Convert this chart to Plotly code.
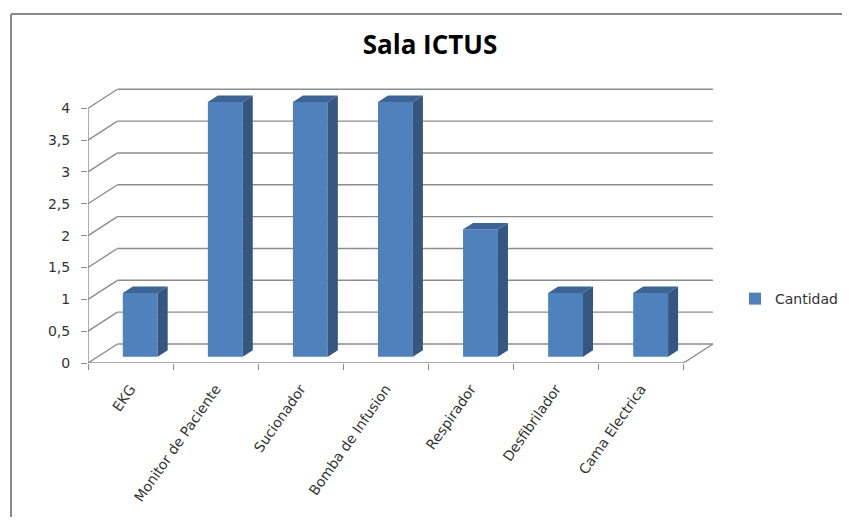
import plotly.graph_objects as go

# ---- data ----
categories = ["EKG", "Monitor de Paciente", "Sucionador", "Bomba de Infusion",
              "Respirador", "Desfibrilador", "Cama Electrica"]
cantidad = [1, 4, 4, 4, 2, 1, 1]
y_tick_values = [0, 0.5, 1, 1.5, 2, 2.5, 3, 3.5, 4]
y_tick_labels = ["0", "0,5", "1", "1,5", "2", "2,5", "3", "3,5", "4"]
series_name = "Cantidad"
title_text = "Sala ICTUS"

# ---- style / geometry (oblique 3D projection in data units) ----
OFF = 8                         # page body margin
W, H = 850 - 2 * OFF, 525 - 2 * OFF
PLOT_L, PLOT_R, PLOT_T, PLOT_B = 88, 726, 70, 363   # page pixels
L_M, R_M = PLOT_L - OFF, W - (PLOT_R - OFF)
T_M, B_M = PLOT_T - OFF, H - (PLOT_B - OFF)
X_RANGE = [-0.5, 7.0]
Y_RANGE = [0, 4.6]
DX, DY = 0.346, 0.298          # depth offset of the back wall
F0, F1 = 0.33, 0.67            # bar depth slab (fraction of depth)
BAR_W = 0.41
FRONT, SIDE, TOP = "#4F81BD", "#34567F", "#3D6494"
GRID = "#8C8C8C"
TXT = "#333333"
FONT = "DejaVu Sans"

n = len(categories)
xs = list(range(n))
x_lo, x_hi = -0.5, n - 0.5

fig = go.Figure()

# front faces of bars
base = F0 * DY
fig.add_trace(go.Bar(
    x=[x + F0 * DX for x in xs], y=cantidad, base=[base] * n,
    width=BAR_W, marker=dict(color=FRONT, line=dict(width=0)),
    name=series_name, showlegend=True, hoverinfo="skip"))

# side and top faces
sx, sy = (F1 - F0) * DX, (F1 - F0) * DY
side_x, side_y, top_x, top_y = [], [], [], []
for x, v in zip(xs, cantidad):
    cx = x + F0 * DX
    xl, xr = cx - BAR_W / 2, cx + BAR_W / 2
    yt = base + v
    side_x += [xr, xr, xr + sx, xr + sx, xr, None]
    side_y += [base, yt, yt + sy, base + sy, base, None]
    top_x += [xl, xr, xr + sx, xl + sx, xl, None]
    top_y += [yt, yt, yt + sy, yt + sy, yt, None]

fig.add_trace(go.Scatter(x=side_x, y=side_y, fill="toself", fillcolor=SIDE,
                         mode="lines", line=dict(width=0, color=SIDE),
                         showlegend=False, hoverinfo="skip", xaxis="x2"))
fig.add_trace(go.Scatter(x=top_x, y=top_y, fill="toself", fillcolor=TOP,
                         mode="lines", line=dict(width=0, color=TOP),
                         showlegend=False, hoverinfo="skip", xaxis="x2"))

# walls / gridlines (below traces)
shapes = []
def seg(x0, y0, x1, y1):
    shapes.append(dict(type="line", xref="x", yref="y", x0=x0, y0=y0, x1=x1, y1=y1,
                       layer="below", line=dict(color=GRID, width=1.4)))

for v in y_tick_values:
    seg(x_lo, v, x_lo + DX, v + DY)                 # left wall
    seg(x_lo + DX, v + DY, x_hi + DX, v + DY)       # back wall
seg(x_lo, 0, x_hi, 0)                               # floor front edge
seg(x_hi, 0, x_hi + DX, DY)                         # floor right edge
seg(x_lo, 0, x_lo, y_tick_values[-1])               # value axis line

# chart border (left and top edges visible); page pixel -> paper coords
pw = W - L_M - R_M
ph = H - T_M - B_M
def px_to_paper_x(px):
    return (px - OFF - L_M) / pw
def px_to_paper_y(py):
    return (H - B_M - (py - OFF)) / ph
for x0, y0, x1, y1 in [(11, 14, 11, 540), (11, 14, 870, 14)]:
    shapes.append(dict(type="line", xref="paper", yref="paper",
                       x0=px_to_paper_x(x0), y0=px_to_paper_y(y0),
                       x1=px_to_paper_x(x1), y1=px_to_paper_y(y1),
                       line=dict(color="#8A8A8A", width=2)))

fig.update_layout(
    width=W, height=H,
    margin=dict(l=L_M, r=R_M, t=T_M, b=B_M, autoexpand=False),
    paper_bgcolor="white", plot_bgcolor="white",
    shapes=shapes,
    title=dict(text="<b>" + title_text + "</b>", x=(430 - OFF) / W, xref="container",
               xanchor="center", y=1 - (45 - OFF) / H, yref="container", yanchor="middle",
               font=dict(family="Open Sans", size=26, color="#000000")),
    xaxis=dict(range=X_RANGE, tickvals=xs, ticktext=categories, tickangle=-55,
               ticks="", showgrid=False, zeroline=False, showline=False,
               ticklabelstandoff=14, automargin=False,
               tickfont=dict(family=FONT, size=14, color=TXT)),
    xaxis2=dict(range=X_RANGE, overlaying="x", anchor="y", side="bottom",
                tickvals=[i - 0.5 for i in range(n + 1)], showticklabels=False,
                ticks="outside", ticklen=6, tickcolor=GRID, tickwidth=1.4,
                showgrid=False, zeroline=False, showline=False, automargin=False),
    yaxis=dict(range=Y_RANGE, tickvals=y_tick_values, ticktext=y_tick_labels,
               ticks="outside", ticklen=6, tickcolor=GRID, tickwidth=1.4,
               showgrid=False, zeroline=False, showline=False,
               ticklabelstandoff=8, automargin=False,
               tickfont=dict(family=FONT, size=14, color=TXT)),
    legend=dict(x=px_to_paper_x(735), y=px_to_paper_y(299), xanchor="left",
                yanchor="middle", font=dict(family=FONT, size=14, color=TXT),
                bgcolor="rgba(0,0,0,0)", itemwidth=30),
    showlegend=True,
)

fig.write_html("out.html")
